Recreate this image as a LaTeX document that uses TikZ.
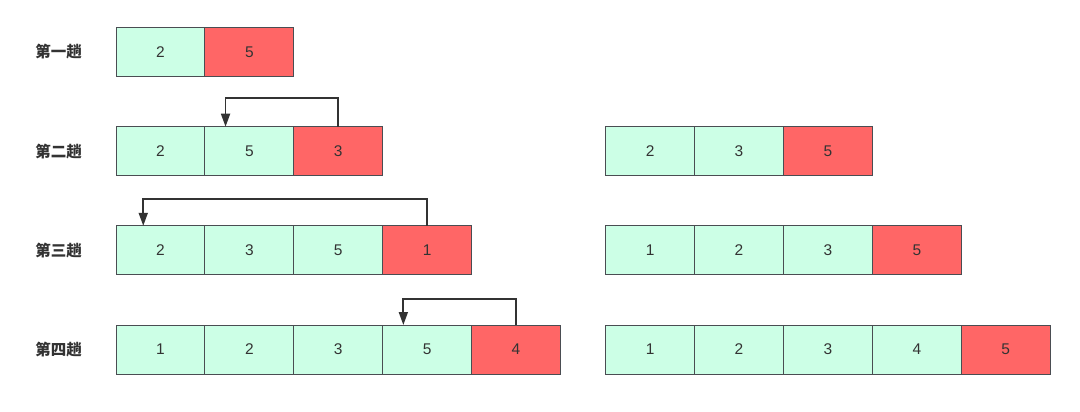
\documentclass[tikz,border=0pt]{standalone}
\usepackage{fontspec}
\setmainfont{Liberation Sans}
\newfontfamily\cjk{Noto Sans CJK SC}
\usetikzlibrary{arrows.meta}
\definecolor{gfill}{HTML}{CCFFE6}
\definecolor{rfill}{HTML}{FF6666}
\definecolor{bcol}{HTML}{4A4D52}
\definecolor{tcol}{HTML}{333333}
\begin{document}
\begin{tikzpicture}[x=1pt,y=-1pt,
  cell/.style={draw=bcol,line width=0.9pt,minimum width=88.9pt,minimum height=49pt,inner sep=0pt,outer sep=0pt,font=\fontsize{15.5}{17}\selectfont,text=tcol},
  gc/.style={cell,fill=gfill},
  rc/.style={cell,fill=rfill},
  lab/.style={font=\cjk\bfseries\fontsize{15.5}{17}\selectfont,text=tcol},
  arr/.style={draw=tcol,line width=1.8pt,-{Triangle[width=9pt,length=13pt]}}]
\useasboundingbox (0,0) rectangle (1080,412);
\def\lx{116}\def\rx{605.7}\def\w{88.9}
% row 1
\node[lab] (l1) at (58.5,51.8) {第一趟};
\node[gc] (a1) at (\lx+0.5*\w,51.8) {2};
\node[rc] (a2) at (\lx+1.5*\w,51.8) {5};
% row 2
\node[lab] (l2) at (58.5,151.2) {第二趟};
\node[gc] (b1) at (\lx+0.5*\w,151.2) {2};
\node[gc] (b2) at (\lx+1.5*\w,151.2) {5};
\node[rc] (b3) at (\lx+2.5*\w,151.2) {3};
\node[gc] (rb1) at (\rx+0.5*\w,151.2) {2};
\node[gc] (rb2) at (\rx+1.5*\w,151.2) {3};
\node[rc] (rb3) at (\rx+2.5*\w,151.2) {5};
\draw[arr] (b3.north) -- ++(0,-29) -| ([xshift=-23.8pt]b2.north);
% row 3
\node[lab] (l3) at (58.5,250.3) {第三趟};
\node[gc] (c1) at (\lx+0.5*\w,250.3) {2};
\node[gc] (c2) at (\lx+1.5*\w,250.3) {3};
\node[gc] (c3) at (\lx+2.5*\w,250.3) {5};
\node[rc] (c4) at (\lx+3.5*\w,250.3) {1};
\node[gc] (rc1) at (\rx+0.5*\w,250.3) {1};
\node[gc] (rc2) at (\rx+1.5*\w,250.3) {2};
\node[gc] (rc3) at (\rx+2.5*\w,250.3) {3};
\node[rc] (rc4) at (\rx+3.5*\w,250.3) {5};
\draw[arr] (c4.north) -- ++(0,-26.5) -| ([xshift=-17.2pt]c1.north);
% row 4
\node[lab] (l4) at (58.5,349.5) {第四趟};
\node[gc] (d1) at (\lx+0.5*\w,349.5) {1};
\node[gc] (d2) at (\lx+1.5*\w,349.5) {2};
\node[gc] (d3) at (\lx+2.5*\w,349.5) {3};
\node[gc] (d4) at (\lx+3.5*\w,349.5) {5};
\node[rc] (d5) at (\lx+4.5*\w,349.5) {4};
\node[gc] (rd1) at (\rx+0.5*\w,349.5) {1};
\node[gc] (rd2) at (\rx+1.5*\w,349.5) {2};
\node[gc] (rd3) at (\rx+2.5*\w,349.5) {3};
\node[gc] (rd4) at (\rx+3.5*\w,349.5) {4};
\node[rc] (rd5) at (\rx+4.5*\w,349.5) {5};
\draw[arr] (d5.north) -- ++(0,-26) -| ([xshift=-23.8pt]d4.north);
\end{tikzpicture}
\end{document}
